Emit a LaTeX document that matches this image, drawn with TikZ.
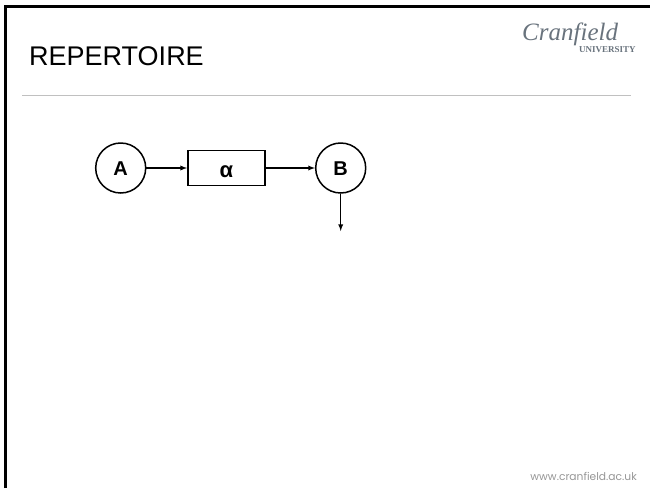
\documentclass[tikz,border=0pt]{standalone}
\usepackage{fontspec}
\setmainfont{Liberation Sans}
\newfontfamily\logofont{Liberation Serif}
\newfontfamily\urlfont{Poppins}
\usetikzlibrary{arrows,positioning}
\definecolor{rulegray}{RGB}{192,192,192}
\definecolor{logogray}{RGB}{105,115,125}
\definecolor{urlgray}{RGB}{150,150,150}
\tikzstyle{arrow} = [line width=1.3pt,->,>=latex]
\tikzset{state/.style={circle,draw,minimum size=50pt,inner sep=0pt,line width=1.5pt,text height=15.5pt,text depth=0pt,font=\fontsize{20}{20}\selectfont\bfseries},
action/.style={rectangle,draw,minimum width=77pt,minimum height=35pt,inner sep=0pt,line width=1.5pt,text height=18pt,text depth=0pt,font=\fontsize{22}{22}\selectfont\bfseries}}

\begin{document}
\begin{tikzpicture}[x=1pt,y=-1pt]
    \useasboundingbox (0,0) rectangle (650,488);
    \coordinate (framebottom) at (5.5,488);
    \coordinate (framecorner) at (5.5,6.5);
    \coordinate (frameright) at (650,6.5);
    \draw [line width=3pt] (framebottom) -- (framecorner) -- (frameright);
    \coordinate (ruleleft) at (22,95.5);
    \coordinate (ruleright) at (631,95.5);
    \draw [rulegray, line width=1.7pt] (ruleleft) -- (ruleright);

    \node [anchor=base west, inner sep=0pt, font=\fontsize{27}{27}\selectfont] (title) at (29,65) {REPERTOIRE};
    \node [anchor=base west, inner sep=0pt, text=logogray, font=\fontsize{25}{25}\selectfont\logofont\itshape] (logo) at (522,40) {Cranfield};
    \node [anchor=base west, inner sep=0pt, text=logogray, font=\fontsize{9}{9}\selectfont\logofont\bfseries] (university) at (579,52) {UNIVERSITY};
    \node [anchor=base east, inner sep=0pt, text=urlgray, font=\fontsize{10.7}{10.7}\selectfont\urlfont] (url) at (637,480) {www.cranfield.ac.uk};

    \node [state] (stateA) at (120.7,168) {A};
    \node [action] (alpha) at (226.3,168) {α};
    \node [state] (stateB) at (340.7,168) {B};
    \coordinate (exit) at (340.7,231);

    \draw [arrow] (stateA) -- (alpha);
    \draw [arrow] (alpha) -- (stateB);
    \draw [arrow] (stateB) -- (exit);
\end{tikzpicture}
\end{document}
